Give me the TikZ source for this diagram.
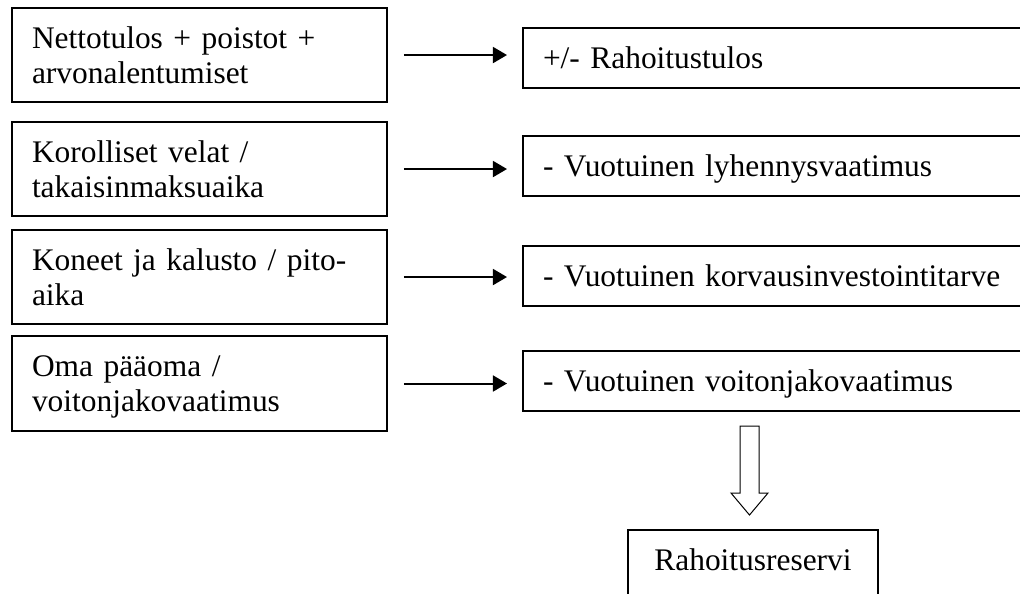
\documentclass[tikz,border=0pt]{standalone}
\usepackage{fontspec}
\setmainfont{Liberation Serif}
\usetikzlibrary{calc,positioning,arrows.meta}

\begin{document}
\begin{tikzpicture}[x=0.42pt, y=-0.42pt, >={Triangle[length=5.9pt, width=6.7pt]},
                    font=\fontsize{13.2}{14.7}\selectfont]
        \tikzset{
            lbox/.style={draw, line width=0.84pt, anchor=north west, inner xsep=8.4pt,
                         inner ysep=0pt, text width=140.7pt, align=left,
                         text height=16.8pt, text depth=22.7pt},
            rbox/.style={lbox, text width=205.8pt, text depth=8.4pt},
            flow/.style={->, line width=0.84pt, shorten <=6.7pt, shorten >=6.3pt}
        }
        \path[use as bounding box, clip] (0,0) rectangle (1020,593);
        %% ---- Vasen sarake ----
        \node[lbox] (l1) at (11,7)   {Nettotulos + poistot +\\arvonalentumiset};
        \node[lbox] (l2) at (11,121) {Korolliset velat /\\takaisinmaksuaika};
        \node[lbox] (l3) at (11,229) {Koneet ja kalusto / pito-\\aika};
        \node[lbox, text depth=23.1pt] (l4) at (11,335) {Oma pääoma /\\voitonjakovaatimus};
        %% ---- Oikea sarake ----
        \node[rbox] (r1) at (522,27)  {+/- Rahoitustulos};
        \node[rbox] (r2) at (522,135) {- Vuotuinen lyhennysvaatimus};
        \node[rbox] (r3) at (522,245) {- Vuotuinen korvausinvestointitarve};
        \node[rbox] (r4) at (522,350) {- Vuotuinen voitonjakovaatimus};
        %% ---- Nuolet ----
        \foreach \i in {1,...,4}
            \draw[flow] (l\i.east) -- (l\i.east -| r\i.west);
        %% ---- Rahoitusreservi ----
        \node[lbox, text width=88.2pt, align=center, text height=17.2pt,
              text depth=29.4pt] (res) at (627,529) {Rahoitusreservi};
        \draw[line width=0.42pt] ($(res.north)+(-3.5,-14)$) -- ++(-18.5,-22) -- ++(9,0)
            -- ++(0,-67) -- ++(19,0) -- ++(0,67) -- ++(9,0) -- cycle;
\end{tikzpicture}
\end{document}
